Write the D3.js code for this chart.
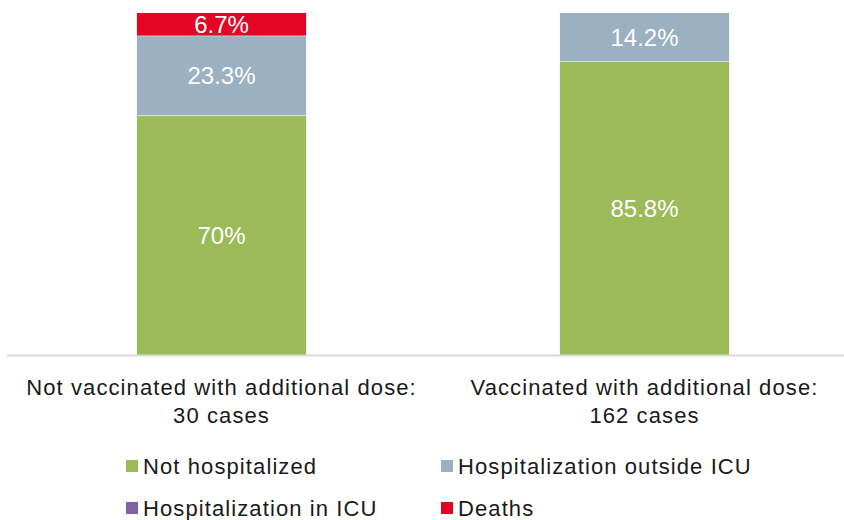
<!DOCTYPE html>
<html><head><meta charset="utf-8">
<script src="https://cdn.jsdelivr.net/npm/d3@7"></script>
<style>html,body{margin:0;padding:0;background:#fff;}svg{display:block;font-family:"Liberation Sans",Arial,sans-serif;}</style>
</head><body>
<svg id="c" width="844" height="520"></svg>
<script>
const categories = [["Not vaccinated with additional dose:", "30 cases"], ["Vaccinated with additional dose:", "162 cases"]];
const seriesNames = ["Not hospitalized", "Hospitalization outside ICU", "Hospitalization in ICU", "Deaths"];
const notHospitalized = [70, 85.8];
const hospOutsideICU = [23.3, 14.2];
const hospInICU = [0, 0];
const deaths = [6.7, 0];
const valueLabels = [["70%", "85.8%"], ["23.3%", "14.2%"], ["", ""], ["6.7%", ""]];
const colors = ["#9bbb59", "#9bb0c1", "#8064a2", "#e30524"];

const svg = d3.select("#c");
const x = d3.scaleBand().domain([0, 1]).range([10, 856]).paddingInner(0.6).paddingOuter(0.3);
const y = d3.scaleLinear().domain([0, 100]).range([355, 13]);

const table = [0, 1].map(i => ({i, v: [notHospitalized[i], hospOutsideICU[i], hospInICU[i], deaths[i]]}));
const stack = d3.stack().keys([0, 1, 2, 3]).value((d, k) => d.v[k]);
const layers = stack(table);

const g = svg.append("g");
layers.forEach((layer, k) => {
  g.selectAll(null).data(layer).join("rect")
    .attr("x", d => x(d.data.i))
    .attr("width", x.bandwidth())
    .attr("y", d => y(d[1]))
    .attr("height", d => y(d[0]) - y(d[1]))
    .attr("fill", colors[k]);
});
layers.forEach((layer, k) => {
  g.selectAll(null).data(layer.filter(d => d[1] > d[0] && d[0] > 0)).join("line")
    .attr("x1", d => x(d.data.i)).attr("x2", d => x(d.data.i) + x.bandwidth())
    .attr("y1", d => y(d[0])).attr("y2", d => y(d[0]))
    .attr("stroke", "#ffffff").attr("stroke-opacity", 0.5).attr("stroke-width", 1);
});
layers.forEach((layer, k) => {
  g.selectAll(null).data(layer.filter(d => d[1] > d[0])).join("text")
    .attr("x", d => x(d.data.i) + x.bandwidth() / 2)
    .attr("y", d => (y(d[0]) + y(d[1])) / 2)
    .attr("dy", "0.36em")
    .attr("text-anchor", "middle")
    .attr("fill", "#ffffff")
    .attr("font-size", 24)
    .text(d => valueLabels[k][d.data.i]);
});

svg.append("line").attr("x1", 7).attr("x2", 844).attr("y1", y(0) + 0.5).attr("y2", y(0) + 0.5)
  .attr("stroke", "#d9d9d9").attr("stroke-width", 2);

categories.forEach((lines, i) => {
  const t = svg.append("text").attr("text-anchor", "middle").attr("font-size", 22)
    .attr("letter-spacing", "1.1px").attr("fill", "#1a1a1a");
  lines.forEach((ln, j) => {
    t.append("tspan").attr("x", x(i) + x.bandwidth() / 2).attr("y", 395 + j * 28).text(ln);
  });
});

const legPos = [[126, 466], [441, 466], [126, 508], [441, 508]];
seriesNames.forEach((n, k) => {
  const [lx, ly] = legPos[k];
  svg.append("rect").attr("x", lx).attr("y", ly - 6).attr("width", 12).attr("height", 12).attr("fill", colors[k]);
  svg.append("text").attr("x", lx + 17).attr("y", ly).attr("dy", "0.36em").attr("font-size", 22)
    .attr("letter-spacing", "1.1px").attr("fill", "#1a1a1a").text(n);
});
</script>
</body></html>
